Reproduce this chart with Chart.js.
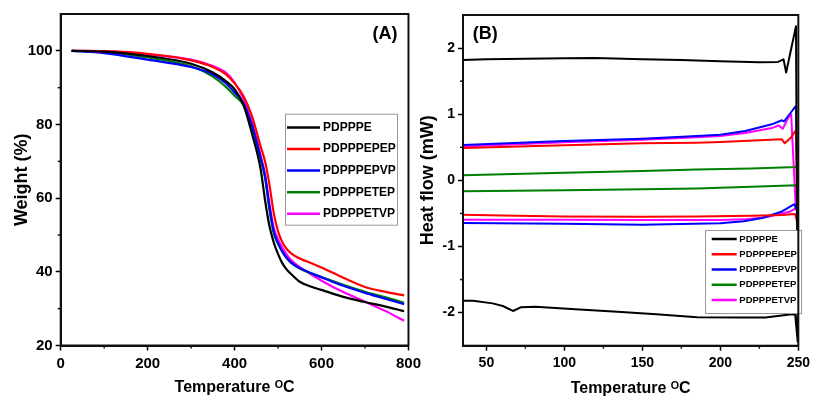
<!DOCTYPE html>
<html>
<head>
<meta charset="utf-8">
<script src="https://cdn.jsdelivr.net/npm/chart.js@4.4.1/dist/chart.umd.min.js"></script>
<style>
  html, body { margin: 0; padding: 0; background: #fff; overflow: hidden; }
  #wrap { position: relative; width: 814px; height: 399px; }
  canvas { position: absolute; top: 0; }
  #tga { left: 0; }
  #dsc { left: 400px; }
</style>
</head>
<body>
<div id="wrap">
  <canvas id="tga" width="425" height="399"></canvas>
  <canvas id="dsc" width="414" height="399"></canvas>
</div>
<script>
const seriesNames = ['PDPPPE', 'PDPPPEPEP', 'PDPPPEPVP', 'PDPPPETEP', 'PDPPPETVP'];
const seriesColors = ['#000000', '#ff0000', '#0000ff', '#008000', '#ff00ff'];

// tick labels
const tgaTicksX = [0, 200, 400, 600, 800];
const tgaTicksY = [20, 40, 60, 80, 100];
const dscTicksX = [50, 100, 150, 200, 250];
const dscTicksY = [-2, -1, 0, 1, 2];

// (A) TGA, weight % vs temperature
const tgaTemp = [25, 100, 200, 300, 350, 380, 400, 420, 440, 460, 470, 480, 490, 500, 510, 520, 530, 550, 575, 600, 650, 700, 750, 790];
const tgaPDPPPE    = [100, 99.8, 98.6, 96.5, 94.1, 91.8, 89.6, 85.5, 77.5, 67.8, 59.5, 52.5, 48, 44.8, 42.3, 40.6, 39.4, 37.3, 36.0, 35.1, 33.2, 31.8, 30.5, 29.3];
const tgaPDPPPEPEP = [100, 99.9, 99.2, 97.4, 95.6, 93.6, 91.2, 87.8, 82.3, 74, 70, 63.8, 56, 51, 48, 46.2, 45, 43.6, 42.4, 41.2, 38.4, 35.9, 34.5, 33.6];
const tgaPDPPPEPVP = [100, 99.4, 97.6, 95.6, 93.6, 91.2, 88.7, 85.8, 79.8, 71, 66, 57.8, 51, 47.8, 45.5, 43.8, 42.5, 41, 39.7, 38.5, 36.2, 34.3, 32.6, 31.2];
const tgaPDPPPETEP = [100, 99.7, 98.2, 95.8, 93.0, 90.2, 87.8, 85.3, 79.2, 70.5, 65.5, 57, 50.5, 47.6, 45.4, 43.7, 42.5, 40.9, 39.6, 38.6, 36.5, 34.6, 33, 31.6];
const tgaPDPPPETVP = [100, 99.9, 99.0, 97.6, 95.9, 94.1, 91.4, 87, 80.5, 71.5, 66.5, 58.7, 52, 48.8, 46.6, 44.7, 43.2, 41.3, 39.4, 37.6, 34.5, 31.9, 29.2, 26.7];
const tgaSeries = [tgaPDPPPE, tgaPDPPPEPEP, tgaPDPPPEPVP, tgaPDPPPETEP, tgaPDPPPETVP];

// (B) DSC, heating run then cooling run (one loop per sample)
const dscT_PDPPPE  = [35, 50, 75, 100, 120, 150, 175, 200, 225, 237, 240.5, 242.2, 248.5, 249.6, 248, 245.8, 229, 212, 185, 159, 134, 107, 81.5, 72, 67, 60.5, 54, 41.5, 35];
const dscHF_PDPPPE = [1.82, 1.83, 1.84, 1.845, 1.85, 1.83, 1.82, 1.8, 1.785, 1.79, 1.83, 1.63, 2.33, -2.44, -2.03, -2.025, -2.075, -2.075, -2.07, -2.025, -1.985, -1.95, -1.91, -1.92, -1.975, -1.9, -1.86, -1.82, -1.82];
const dscT_PDPPPEPEP  = [35, 100, 150, 185, 200, 239.5, 241.3, 245, 248.5, 249.6, 248, 240, 220, 185, 150, 100, 60, 35];
const dscHF_PDPPPEPEP = [0.49, 0.53, 0.56, 0.57, 0.58, 0.62, 0.56, 0.64, 0.76, -0.67, -0.51, -0.525, -0.535, -0.545, -0.55, -0.545, -0.53, -0.52];
const dscT_PDPPPEPVP  = [35, 100, 150, 185, 200, 216, 233, 239.5, 240.8, 246.8, 248.5, 249.6, 247.5, 239.5, 227, 215, 200, 150, 100, 35];
const dscHF_PDPPPEPVP = [0.535, 0.594, 0.63, 0.67, 0.69, 0.746, 0.847, 0.908, 0.89, 1.075, 1.125, -0.5, -0.36, -0.47, -0.57, -0.62, -0.65, -0.67, -0.655, -0.645];
const dscT_PDPPPETEP  = [35, 100, 150, 185, 220, 249, 249.8, 249.8, 249, 220, 185, 150, 100, 35];
const dscHF_PDPPPETEP = [0.078, 0.115, 0.14, 0.165, 0.18, 0.2, 0.22, -0.08, -0.075, -0.095, -0.124, -0.135, -0.15, -0.165];
const dscT_PDPPPETVP  = [35, 100, 150, 185, 200, 216, 233, 237.3, 240, 244.7, 245.4, 248.4, 245, 238, 230, 215, 200, 150, 100, 35];
const dscHF_PDPPPETVP = [0.51, 0.575, 0.615, 0.65, 0.67, 0.715, 0.79, 0.83, 0.78, 1.0, 1.0, -0.42, -0.47, -0.51, -0.555, -0.59, -0.6, -0.6, -0.595, -0.595];
const dscT  = [dscT_PDPPPE, dscT_PDPPPEPEP, dscT_PDPPPEPVP, dscT_PDPPPETEP, dscT_PDPPPETVP];
const dscHF = [dscHF_PDPPPE, dscHF_PDPPPEPEP, dscHF_PDPPPEPVP, dscHF_PDPPPETEP, dscHF_PDPPPETVP];

Chart.defaults.font.family = "'Liberation Sans', Arial, sans-serif";
Chart.defaults.font.weight = 'bold';
Chart.defaults.color = '#000';

// closed frame + small minor ticks between the labelled ones
const framePlugin = {
  id: 'frame',
  afterDraw(chart) {
    const { ctx, chartArea: a } = chart;
    ctx.save();
    ctx.strokeStyle = '#111';
    ctx.lineWidth = 2;
    ctx.strokeRect(a.left, a.top, a.right - a.left, a.bottom - a.top);
    ctx.lineWidth = 1.5;
    ['x', 'y'].forEach(id => {
      const s = chart.scales[id];
      const t = s.ticks;
      if (t.length < 2) return;
      const step = t[1].value - t[0].value;
      const vals = [t[0].value - step / 2].concat(t.map(k => k.value + step / 2));
      vals.forEach(v => {
        if (v <= s.min || v >= s.max) return;
        const p = s.getPixelForValue(v);
        ctx.beginPath();
        if (id === 'x') { ctx.moveTo(p, a.bottom); ctx.lineTo(p, a.bottom + 3); }
        else { ctx.moveTo(a.left, p); ctx.lineTo(a.left - 3, p); }
        ctx.stroke();
      });
    });
    ctx.restore();
  }
};

// legend drawn in a box inside the plot area
const boxLegend = {
  id: 'boxLegend',
  afterDatasetsDraw(chart, args, o) {
    const { ctx, chartArea: a } = chart;
    const x0 = a.left + o.left, y0 = a.top + o.top;
    ctx.save();
    ctx.fillStyle = '#fff';
    ctx.fillRect(x0, y0, o.width, o.height);
    ctx.strokeStyle = '#999';
    ctx.lineWidth = 1;
    ctx.strokeRect(x0 + 0.5, y0 + 0.5, o.width, o.height);
    ctx.font = o.font;
    ctx.textBaseline = 'middle';
    chart.data.datasets.forEach((ds, i) => {
      const y = y0 + o.rowStart + i * o.rowStep;
      ctx.strokeStyle = ds.borderColor;
      ctx.lineWidth = 2.5;
      ctx.beginPath();
      ctx.moveTo(x0 + o.pad, y);
      ctx.lineTo(x0 + o.pad + o.lineLen, y);
      ctx.stroke();
      ctx.fillStyle = '#000';
      ctx.fillText(ds.label, x0 + o.pad + o.lineLen + o.gap, y);
    });
    ctx.restore();
  }
};

const panelLabel = {
  id: 'panelLabel',
  afterDraw(chart, args, o) {
    const { ctx, chartArea: a } = chart;
    ctx.save();
    ctx.font = "bold 18px 'Liberation Sans', Arial, sans-serif";
    ctx.fillStyle = '#000';
    ctx.textBaseline = 'middle';
    if (o.align === 'right') {
      ctx.textAlign = 'right';
      ctx.fillText(o.text, a.right - o.dx, a.top + o.dy);
    } else {
      ctx.textAlign = 'left';
      ctx.fillText(o.text, a.left + o.dx, a.top + o.dy);
    }
    ctx.restore();
  }
};

const tickGrid = { drawOnChartArea: false, tickLength: 5, tickWidth: 1.5, tickColor: '#000' };
const axisBorder = { width: 2, color: '#111' };
const setTicks = list => s => { s.ticks = list.map(v => ({ value: v })); };

// ---- (A) TGA
new Chart(document.getElementById('tga'), {
  type: 'scatter',
  data: {
    datasets: seriesNames.map((name, i) => ({
      label: name,
      data: tgaTemp.map((t, j) => ({ x: t, y: tgaSeries[i][j] })),
      borderColor: seriesColors[i],
      backgroundColor: seriesColors[i],
      borderWidth: 2.2,
      pointRadius: 0,
      showLine: true,
      cubicInterpolationMode: 'monotone'
    }))
  },
  options: {
    responsive: false,
    animation: false,
    layout: { padding: { top: 14, right: 15.7, left: 0, bottom: 0 } },
    plugins: {
      legend: { display: false },
      tooltip: { enabled: false },
      boxLegend: { left: 224.3, top: 99.7, width: 112, height: 111, rowStart: 13.7, rowStep: 21.6, pad: 2, lineLen: 33, gap: 3,
        font: "bold 12px 'Liberation Sans', Arial, sans-serif" },
      panelLabel: { text: '(A)', align: 'right', dx: 11, dy: 20 }
    },
    scales: {
      x: {
        type: 'linear', min: 0, max: 800,
        afterBuildTicks: setTicks(tgaTicksX),
        ticks: { font: { size: 15 }, padding: 4, maxRotation: 0 },
        grid: tickGrid,
        border: axisBorder,
        title: { display: true, text: 'Temperature ᴼC', font: { size: 16 }, padding: { top: 0, bottom: 2 } },
        afterFit: s => { s.height = 53.5; }
      },
      y: {
        min: 20, max: 110,
        afterBuildTicks: setTicks(tgaTicksY),
        ticks: { font: { size: 15 }, padding: 3 },
        grid: tickGrid,
        border: axisBorder,
        title: { display: true, text: 'Weight (%)', font: { size: 18 }, padding: { top: 11, bottom: 0 } },
        afterFit: s => { s.width = 60.7; }
      }
    }
  },
  plugins: [framePlugin, boxLegend, panelLabel]
});

// ---- (B) DSC
new Chart(document.getElementById('dsc'), {
  type: 'scatter',
  data: {
    datasets: seriesNames.map((name, i) => ({
      label: name,
      data: dscT[i].map((t, j) => ({ x: t, y: dscHF[i][j] })),
      borderColor: seriesColors[i],
      backgroundColor: seriesColors[i],
      borderWidth: 2,
      borderJoinStyle: 'round',
      pointRadius: 0,
      showLine: true,
      tension: 0
    }))
  },
  options: {
    responsive: false,
    animation: false,
    layout: { padding: { top: 15, right: 10, left: 0, bottom: 0 } },
    plugins: {
      legend: { display: false },
      tooltip: { enabled: false },
      boxLegend: { left: 242, top: 215, width: 96, height: 83, rowStart: 9, rowStep: 15.25, pad: 6.7, lineLen: 25, gap: 2.6,
        font: "bold 9.5px 'Liberation Sans', Arial, sans-serif" },
      panelLabel: { text: '(B)', align: 'left', dx: 9.7, dy: 19 }
    },
    scales: {
      x: {
        type: 'linear', min: 35, max: 250,
        afterBuildTicks: setTicks(dscTicksX),
        ticks: { font: { size: 14 }, padding: 4, maxRotation: 0 },
        grid: tickGrid,
        border: axisBorder,
        title: { display: true, text: 'Temperature ᴼC', font: { size: 16 }, padding: { top: 0, bottom: 1 } },
        afterFit: s => { s.height = 53.3; }
      },
      y: {
        min: -2.5, max: 2.5,
        afterBuildTicks: setTicks(dscTicksY),
        ticks: { font: { size: 14 }, padding: 3 },
        grid: tickGrid,
        border: axisBorder,
        title: { display: true, text: 'Heat flow (mW)', font: { size: 18 }, padding: { top: 17, bottom: 0 } },
        afterFit: s => { s.width = 63; }
      }
    }
  },
  plugins: [framePlugin, boxLegend, panelLabel]
});
</script>
</body>
</html>
